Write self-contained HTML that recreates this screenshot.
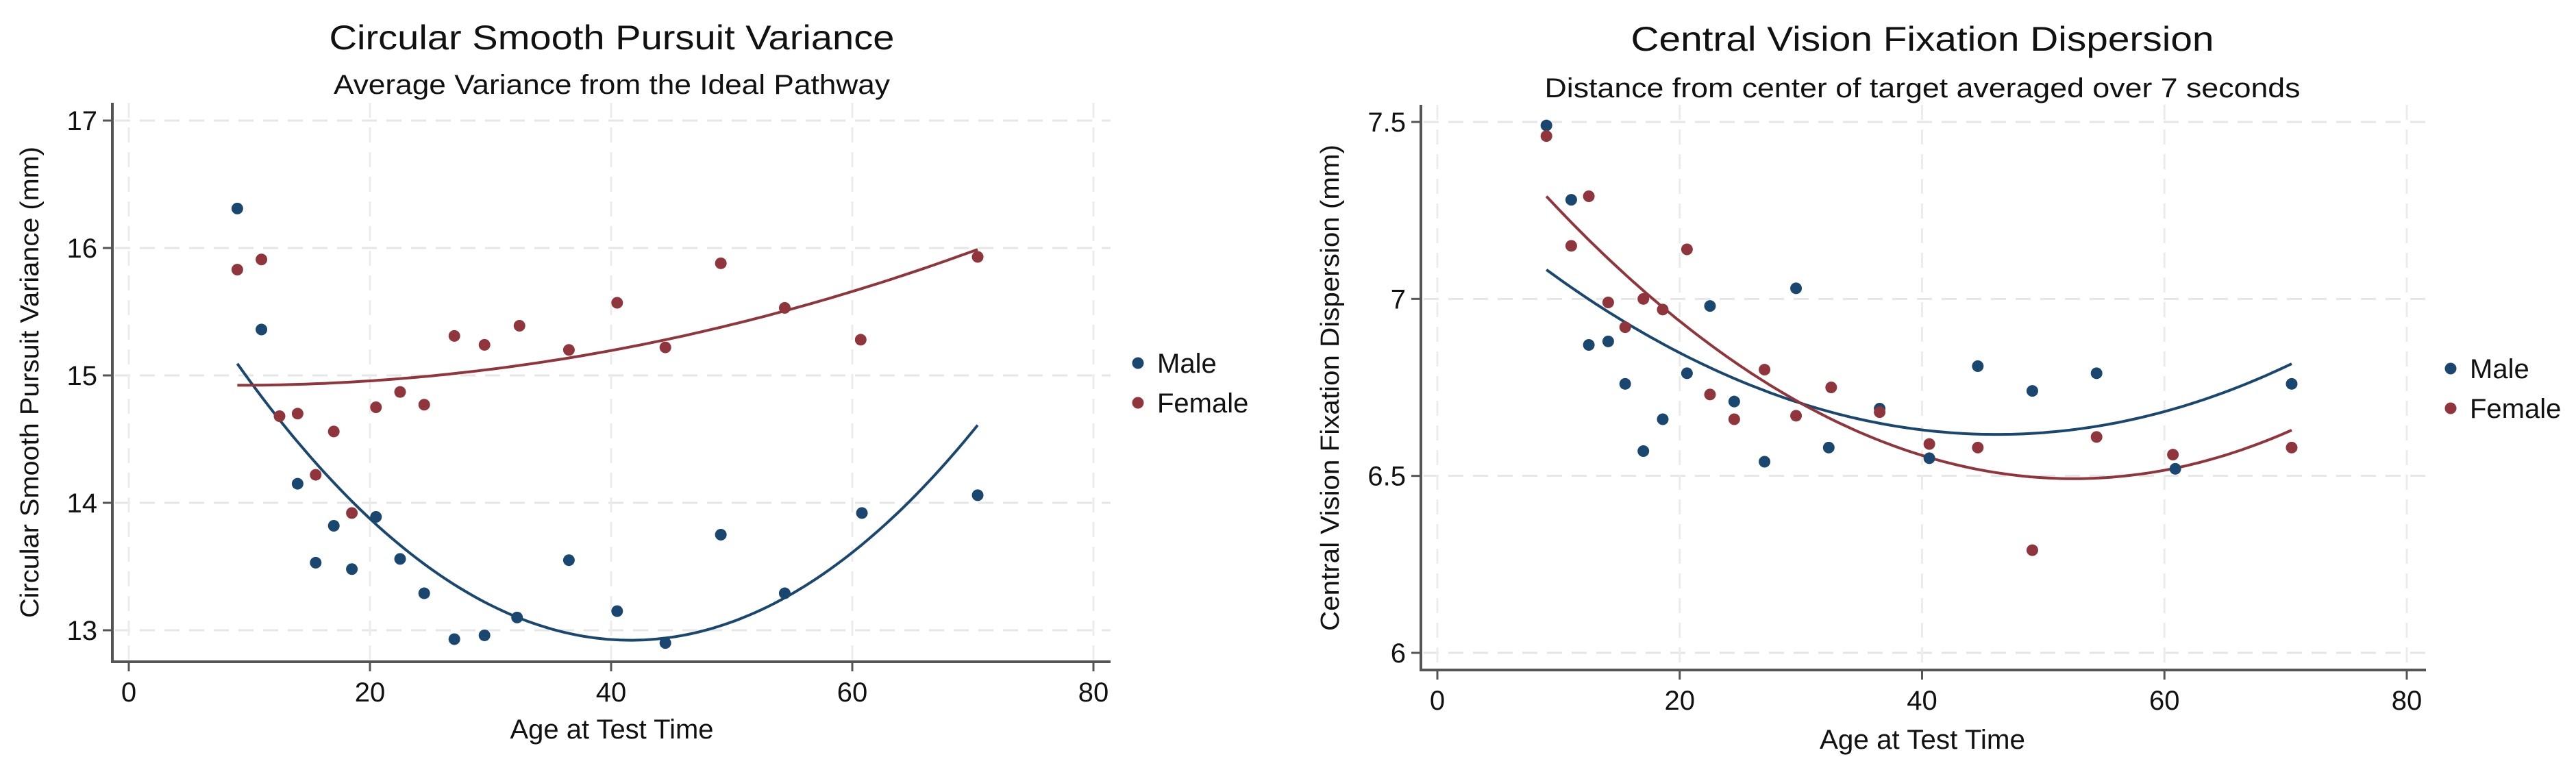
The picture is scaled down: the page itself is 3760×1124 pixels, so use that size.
<!DOCTYPE html>
<html><head><meta charset="utf-8"><style>
html,body{margin:0;padding:0;background:#fff;}
svg{display:block;font-family:"Liberation Sans",Arial,sans-serif;}
</style></head><body>
<svg id="fig" width="3760" height="1124" viewBox="0 0 3760 1124" xmlns="http://www.w3.org/2000/svg"></svg>
<script>
// ---- Data: left chart (Circular Smooth Pursuit Variance) ----
const leftMaleAge = [9.0,11.0,14.0,15.5,17.0,18.5,20.5,22.5,24.5,27.0,29.5,32.2,36.5,40.5,44.5,49.1,54.4,60.8,70.4];
const leftMaleVal = [16.31,15.36,14.15,13.53,13.82,13.48,13.89,13.56,13.29,12.93,12.96,13.10,13.55,13.15,12.90,13.75,13.29,13.92,14.06];
const leftFemaleAge = [9.0,11.0,12.5,14.0,15.5,17.0,18.5,20.5,22.5,24.5,27.0,29.5,32.4,36.5,40.5,44.5,49.1,54.4,60.7,70.4];
const leftFemaleVal = [15.83,15.91,14.68,14.70,14.22,14.56,13.92,14.75,14.87,14.77,15.31,15.24,15.39,15.20,15.57,15.22,15.88,15.53,15.28,15.93];
const leftYTicks = [13,14,15,16,17];
// ---- Data: right chart (Central Vision Fixation Dispersion) ----
const rightMaleAge = [9.0,11.05,12.5,14.1,15.5,17.0,18.6,20.6,22.5,24.5,27.0,29.6,32.3,36.5,40.6,44.6,49.1,54.4,60.9,70.5];
const rightMaleVal = [7.49,7.28,6.87,6.88,6.76,6.57,6.66,6.79,6.98,6.71,6.54,7.03,6.58,6.69,6.55,6.81,6.74,6.79,6.52,6.76];
const rightFemaleAge = [9.0,11.05,12.5,14.1,15.5,17.0,18.6,20.6,22.5,24.5,27.0,29.6,32.5,36.5,40.6,44.6,49.1,54.4,60.7,70.5];
const rightFemaleVal = [7.46,7.15,7.29,6.99,6.92,7.00,6.97,7.14,6.73,6.66,6.80,6.67,6.75,6.68,6.59,6.58,6.29,6.61,6.56,6.58];
const rightYTicks = [6,6.5,7,7.5];
const rightYTickLabels = ["6","6.5","7","7.5"];
const xTicks = [0,20,40,60,80];
const legendLabels = ["Male","Female"];

const NS="http://www.w3.org/2000/svg";
const svg=document.getElementById('fig');
const NAVY="#1a476f", MAROON="#90353b";
function mk(tag,attrs,parent){const e=document.createElementNS(NS,tag);for(const k in attrs)e.setAttribute(k,attrs[k]);(parent||svg).appendChild(e);return e;}
function quadFit(xs,ys){
  let n=xs.length,S=[0,0,0,0,0],T=[0,0,0];
  for(let i=0;i<n;i++){let p=1;for(let k=0;k<5;k++){S[k]+=p;if(k<3)T[k]+=p*ys[i];p*=xs[i];}}
  const A=[[S[0],S[1],S[2],T[0]],[S[1],S[2],S[3],T[1]],[S[2],S[3],S[4],T[2]]];
  for(let i=0;i<3;i++){for(let j=i+1;j<3;j++){const f=A[j][i]/A[i][i];for(let k=i;k<4;k++)A[j][k]-=f*A[i][k];}}
  const c=[0,0,0];for(let i=2;i>=0;i--){let s=A[i][3];for(let k=i+1;k<3;k++)s-=A[i][k]*c[k];c[i]=s/A[i][i];}
  return x=>c[0]+c[1]*x+c[2]*x*x;
}
function chart(cfg){
  const g=mk('g',{});
  
  
  const sx=v=>cfg.x0+(v-0)*(cfg.x80-cfg.x0)/80;
  const sy=v=>cfg.yA+(v-cfg.vA)*(cfg.yB-cfg.yA)/(cfg.vB-cfg.vA);
  // grid
  cfg.yticks.forEach((t,i)=>{
    const l=mk('line',{x1:cfg.axX+4,x2:cfg.right,y1:sy(t),y2:sy(t),stroke:"#e6e6e6","stroke-width":3,"stroke-dasharray":"22,14"},g);
    
    
    const tk=mk('line',{x1:cfg.axX-14,x2:cfg.axX,y1:sy(t),y2:sy(t),stroke:"#555","stroke-width":3},g);
    
    
    const tx=mk('text',{x:cfg.axX-22,y:sy(t)+14,"text-anchor":"end","font-size":40,fill:"#111"},g);
    tx.textContent=cfg.ylabels[i];
    
    
  });
  xTicks.forEach(t=>{
    const l=mk('line',{x1:sx(t),x2:sx(t),y1:cfg.top,y2:cfg.axY-3,stroke:"#ececec","stroke-width":3,"stroke-dasharray":"22,14"},g);
    
    
    const tk=mk('line',{x1:sx(t),x2:sx(t),y1:cfg.axY,y2:cfg.axY+14,stroke:"#555","stroke-width":3},g);
    
    
    const tx=mk('text',{x:sx(t),y:cfg.axY+58,"text-anchor":"middle","font-size":40,fill:"#111"},g);
    tx.textContent=String(t);
    
    
  });
  // axes
  const ya=mk('line',{x1:cfg.axX,x2:cfg.axX,y1:cfg.top,y2:cfg.axY+2,stroke:"#555","stroke-width":4},g);
  
  
  const xa=mk('line',{x1:cfg.axX-2,x2:cfg.right,y1:cfg.axY,y2:cfg.axY,stroke:"#555","stroke-width":4},g);
  
  
  // fit curves
  [[cfg.mAge,cfg.mVal,NAVY,'male-fit-curve'],[cfg.fAge,cfg.fVal,MAROON,'female-fit-curve']].forEach(([xs,ys,col,nm])=>{
    const f=quadFit(xs,ys);const lo=Math.min(...xs),hi=Math.max(...xs);let d="";
    for(let i=0;i<=120;i++){const x=lo+(hi-lo)*i/120;d+=(i?"L":"M")+sx(x).toFixed(1)+","+sy(f(x)).toFixed(1);}
    const p=mk('path',{d:d,fill:"none",stroke:col,"stroke-width":4},g);
    
    
  });
  // points
  [[cfg.mAge,cfg.mVal,NAVY,'male-point'],[cfg.fAge,cfg.fVal,MAROON,'female-point']].forEach(([xs,ys,col,nm])=>{
    xs.forEach((x,i)=>{
      const c=mk('circle',{cx:sx(x),cy:sy(ys[i]),r:8.5,fill:col},g);
      
      
    });
  });
  // titles
  const t1=mk('text',{x:cfg.tcx,y:cfg.titleY,"text-anchor":"middle","font-size":50,fill:"#111",textLength:cfg.titleW,lengthAdjust:"spacingAndGlyphs"},g);
  t1.textContent=cfg.title;
  
  
  const t2=mk('text',{x:cfg.tcx,y:cfg.subY,"text-anchor":"middle","font-size":40,fill:"#111",textLength:cfg.subW,lengthAdjust:"spacingAndGlyphs"},g);
  t2.textContent=cfg.subtitle;
  
  
  const xt=mk('text',{x:cfg.xtx,y:cfg.xtY,"text-anchor":"middle","font-size":40,fill:"#111",textLength:cfg.xtW,lengthAdjust:"spacingAndGlyphs"},g);
  xt.textContent="Age at Test Time";
  
  
  const yt=mk('text',{x:0,y:0,"text-anchor":"middle","font-size":38,fill:"#111",textLength:cfg.ytW,lengthAdjust:"spacingAndGlyphs",transform:`translate(${cfg.ytX},${cfg.ytY}) rotate(-90)`},g);
  yt.textContent=cfg.ytitle;
  
  
  // legend
  legendLabels.forEach((lab,i)=>{
    const y=cfg.legY+i*58;
    const c=mk('circle',{cx:cfg.legX,cy:y,r:8.5,fill:i?MAROON:NAVY},g);
    
    
    const t=mk('text',{x:cfg.legX+28,y:y+14,"font-size":40,fill:"#111"},g);
    t.textContent=lab;
    
    
  });
}
chart({name:'pursuit-variance-chart',x0:188,x80:1596,vA:17,yA:176,vB:13,yB:920,axX:164,axY:966,right:1621,top:150,
  yticks:leftYTicks,ylabels:leftYTicks.map(String),mAge:leftMaleAge,mVal:leftMaleVal,fAge:leftFemaleAge,fVal:leftFemaleVal,
  tcx:893,title:"Circular Smooth Pursuit Variance",titleY:72,titleW:825,subtitle:"Average Variance from the Ideal Pathway",subY:137,subW:812,
  xtx:893,xtY:1078,xtW:297,ytitle:"Circular Smooth Pursuit Variance (mm)",ytX:56,ytY:558,ytW:688,legX:1661,legY:530});
chart({name:'fixation-dispersion-chart',x0:2098,x80:3513,vA:7.5,yA:178,vB:6,yB:953,axX:2074,axY:978,right:3541,top:153,
  yticks:rightYTicks,ylabels:rightYTickLabels,mAge:rightMaleAge,mVal:rightMaleVal,fAge:rightFemaleAge,fVal:rightFemaleVal,
  tcx:2806,title:"Central Vision Fixation Dispersion",titleY:74,titleW:851,subtitle:"Distance from center of target averaged over 7 seconds",subY:142,subW:1103,
  xtx:2806,xtY:1093,xtW:300,ytitle:"Central Vision Fixation Dispersion (mm)",ytX:1954,ytY:566,ytW:710,legX:3577,legY:538});
</script>
</body></html>
